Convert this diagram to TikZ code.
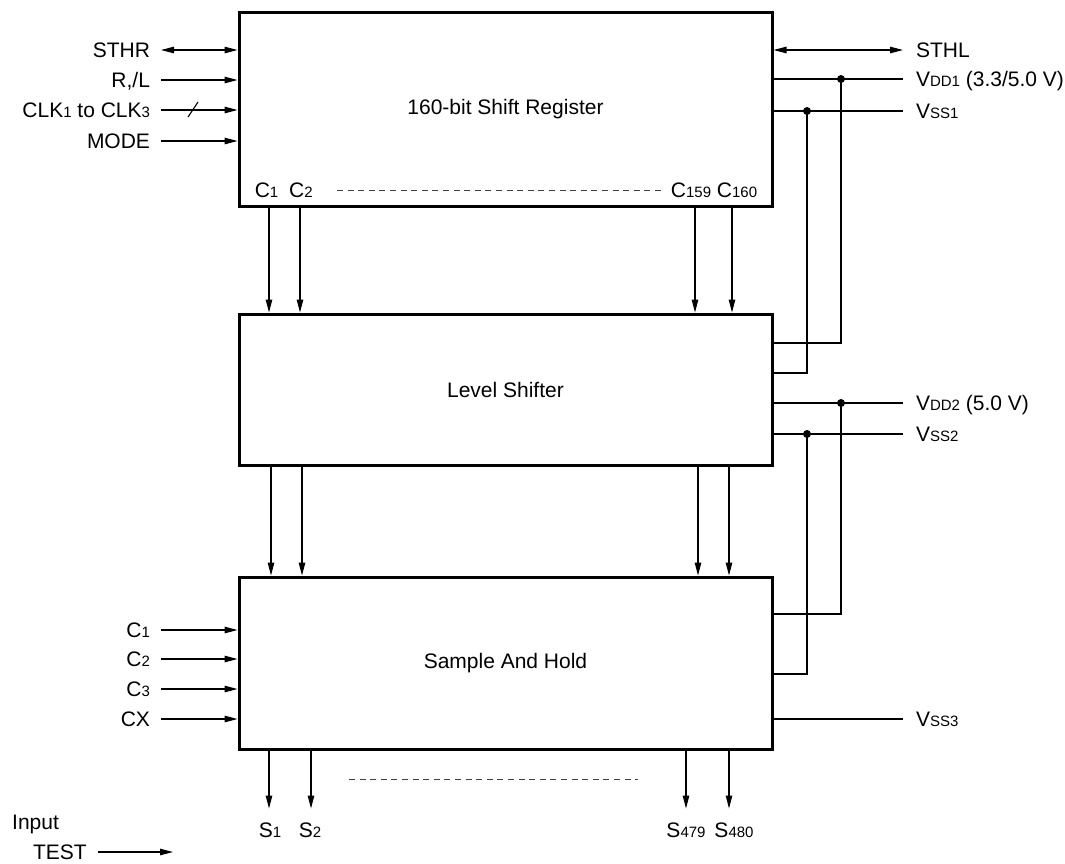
\documentclass[tikz,border=0pt]{standalone}
\usepackage{fontspec}
\setmainfont{Liberation Sans}
\usetikzlibrary{arrows.meta}
\newcommand{\sub}[1]{{\fontsize{15}{15}\selectfont #1}}
\tikzset{
  blk/.style = {draw, line width=3pt, minimum width=533pt, inner sep=0pt},
  lbl/.style = {inner sep=0pt, outer xsep=11pt, text height=15pt, text depth=0pt},
  rlbl/.style = {lbl, anchor=west, outer xsep=13pt},
  olbl/.style = {inner sep=0pt, outer ysep=14pt, text height=15pt, text depth=0pt},
  wire/.style = {line width=1.1pt},
  arr/.style = {wire, -{Triangle[length=13pt,width=6.5pt]}},
  arrs/.style = {wire, {Triangle[length=13pt,width=6.5pt]}-{Triangle[length=13pt,width=6.5pt]}},
  jdot/.style = {circle, fill, minimum size=8pt, inner sep=0pt},
  dots/.style = {line width=1pt, black!75, dash pattern=on 6pt off 4.6pt}
}

\begin{document}
\begin{tikzpicture}[x=1pt, y=-1pt, font=\fontsize{21}{24}\selectfont]
	\useasboundingbox (0,0) rectangle (1065,863);

	% Blocks
	\node[blk, minimum height=194pt] (sr) at (505.5,109) {160-bit Shift Register};
	\node[blk, minimum height=151pt] (ls) at (505.5,389.5) {Level Shifter};
	\node[blk, minimum height=172pt] (sah) at (505.5,663) {Sample And Hold};

	% Shift register inputs
	\node[lbl, anchor=east] (sthr) at (161,50) {STHR};
	\node[lbl, anchor=east] (rl) at (161,80) {R,/L};
	\node[lbl, anchor=east] (clk) at (161,110) {CLK\sub{1} to CLK\sub{3}};
	\node[lbl, anchor=east] (mode) at (161,141) {MODE};
	\draw[arrs] (sthr.east) -- (sthr.east -| sr.west);
	\draw[arr]  (rl.east)   -- (rl.east -| sr.west);
	\draw[arr]  (clk.east)  -- (clk.east -| sr.west);
	\draw[arr]  (mode.east) -- (mode.east -| sr.west);
	\draw[wire] (188,117) -- (198,102); % bus

	% Shift register outputs
	\node[lbl] (c1) at (266.5,190) {C\sub{1}};
	\node[lbl] (c2) at (301,190) {C\sub{2}};
	\node[lbl] (c159) at (691,190) {C\sub{159}};
	\node[lbl] (c160) at (737,190) {C\sub{160}};
	\draw[dots] (337,190) -- (662,190);

	\draw[arr] (269,0 |- sr.south) -- (269,0 |- ls.north);
	\draw[arr] (300,0 |- sr.south) -- (300,0 |- ls.north);
	\draw[arr] (695,0 |- sr.south) -- (695,0 |- ls.north);
	\draw[arr] (732,0 |- sr.south) -- (732,0 |- ls.north);

	\draw[arr] (271,0 |- ls.south) -- (271,0 |- sah.north);
	\draw[arr] (302,0 |- ls.south) -- (302,0 |- sah.north);
	\draw[arr] (698,0 |- ls.south) -- (698,0 |- sah.north);
	\draw[arr] (729,0 |- ls.south) -- (729,0 |- sah.north);

	% Right side
	\node[rlbl] (sthl) at (903,50) {STHL};
	\node[rlbl] (vdd1) at (903,79) {V\sub{DD1} (3.3/5.0 V)};
	\node[rlbl] (vss1) at (903,111) {V\sub{SS1}};
	\node[rlbl] (vdd2) at (903,403) {V\sub{DD2} (5.0 V)};
	\node[rlbl] (vss2) at (903,434) {V\sub{SS2}};
	\node[rlbl] (vss3) at (903,719) {V\sub{SS3}};
	\draw[arrs] (sthl.west -| sr.east) -- (sthl.west);
	\draw[wire] (vdd1.west -| sr.east) -- (vdd1.west);
	\draw[wire] (vss1.west -| sr.east) -- (vss1.west);
	\draw[wire] (vdd2.west -| ls.east) -- (vdd2.west);
	\draw[wire] (vss2.west -| ls.east) -- (vss2.west);
	\draw[wire] (vss3.west -| sah.east) -- (vss3.west);

	% Supply taps
	\node[jdot] (j1) at (841,79) {};
	\node[jdot] (j2) at (807,111) {};
	\node[jdot] (j3) at (841,403) {};
	\node[jdot] (j4) at (807,434) {};
	\draw[wire] (j1.center) |- (ls.east |- 0,343);
	\draw[wire] (j2.center) |- (ls.east |- 0,373);
	\draw[wire] (j3.center) |- (sah.east |- 0,614);
	\draw[wire] (j4.center) |- (sah.east |- 0,674);

	% Sample and hold inputs
	\node[lbl, anchor=east] (ci1) at (161,630) {C\sub{1}};
	\node[lbl, anchor=east] (ci2) at (161,659) {C\sub{2}};
	\node[lbl, anchor=east] (ci3) at (161,689) {C\sub{3}};
	\node[lbl, anchor=east] (cx) at (161,719) {CX};
	\draw[arr] (ci1.east) -- (ci1.east -| sah.west);
	\draw[arr] (ci2.east) -- (ci2.east -| sah.west);
	\draw[arr] (ci3.east) -- (ci3.east -| sah.west);
	\draw[arr] (cx.east)  -- (cx.east -| sah.west);

	% Outputs
	\node[olbl] (s1) at (270,830) {S\sub{1}};
	\node[olbl] (s2) at (310,830) {S\sub{2}};
	\node[olbl] (s479) at (686,830) {S\sub{479}};
	\node[olbl] (s480) at (734,830) {S\sub{480}};
	\draw[arr] (269,0 |- sah.south) -- (269,0 |- s1.north);
	\draw[arr] (311,0 |- sah.south) -- (311,0 |- s2.north);
	\draw[arr] (686,0 |- sah.south) -- (686,0 |- s479.north);
	\draw[arr] (729,0 |- sah.south) -- (729,0 |- s480.north);
	\draw[dots] (349,779) -- (638,779);

	% Test input
	\node[anchor=west, inner sep=0pt, text height=15pt, text depth=0pt] (inp) at (12,822) {Input};
	\node[lbl, anchor=west] (test) at (22,852) {TEST};
	\coordinate (testend) at (173,852);
	\draw[arr] (test.east) -- (testend);
\end{tikzpicture}
\end{document}
